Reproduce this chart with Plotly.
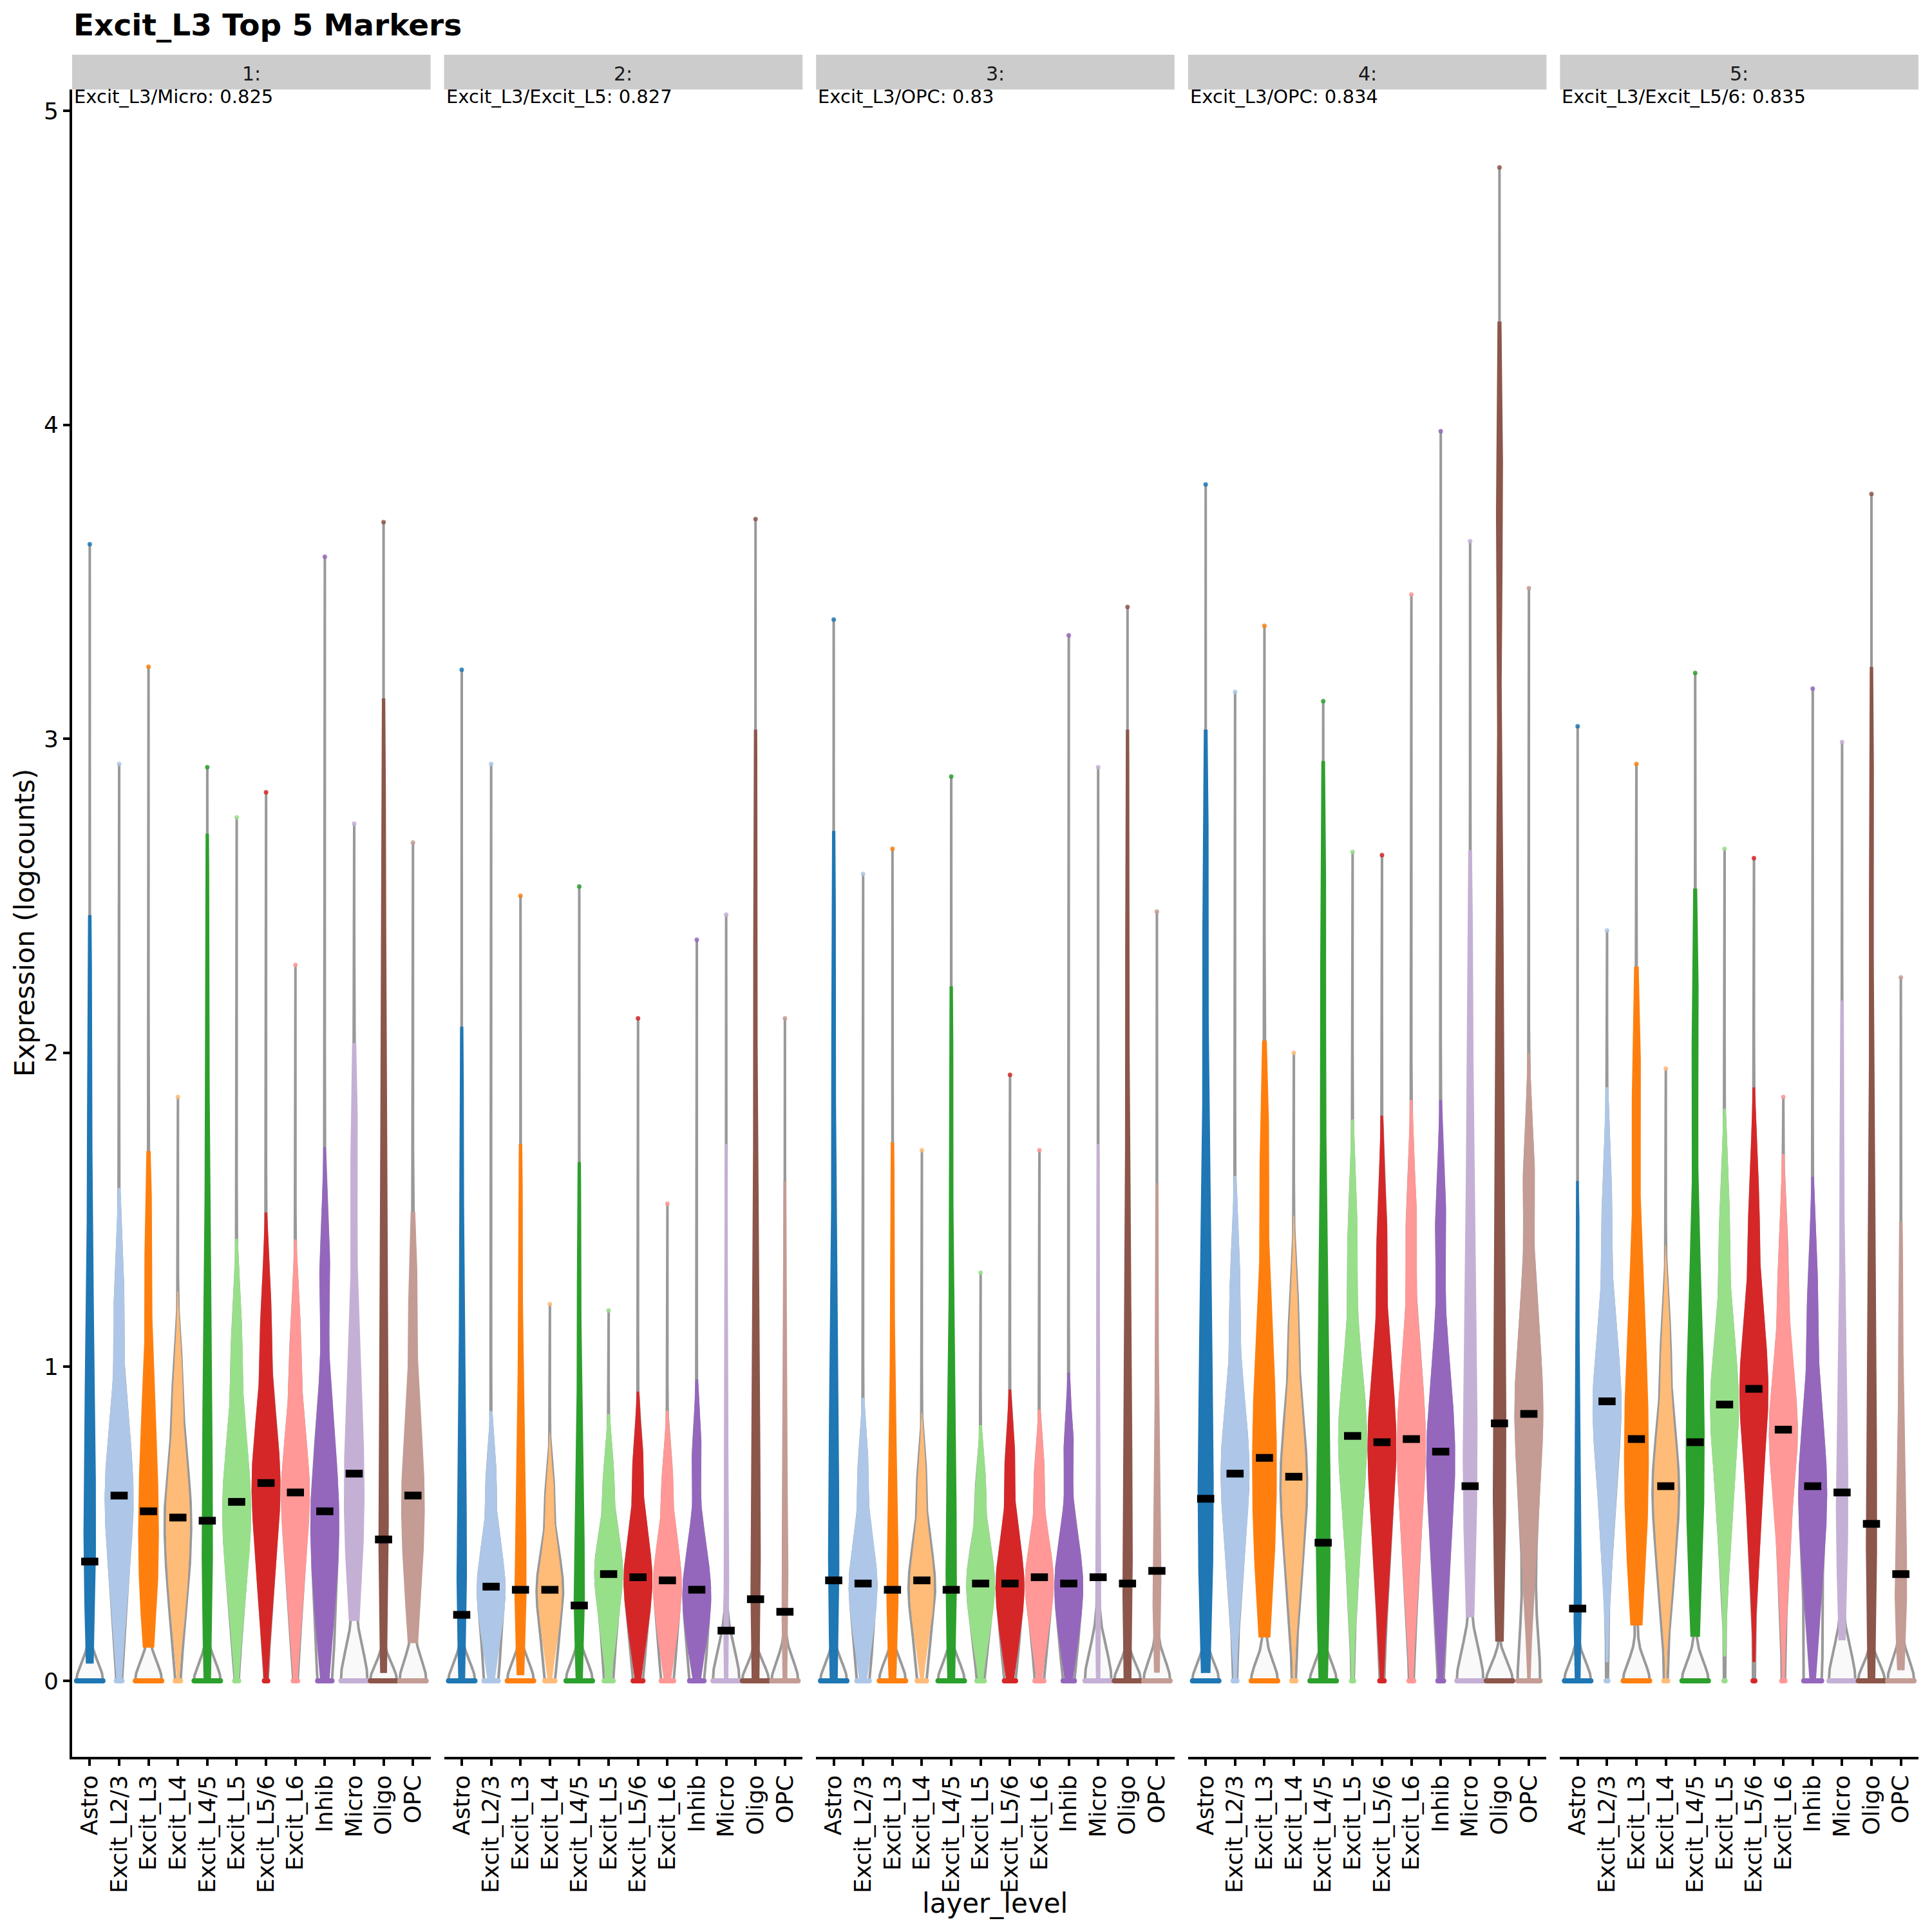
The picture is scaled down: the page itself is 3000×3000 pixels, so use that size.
import numpy as np
import plotly.graph_objects as go

# ---------------- data ----------------
categories = ["Astro", "Excit_L2/3", "Excit_L3", "Excit_L4", "Excit_L4/5", "Excit_L5",
              "Excit_L5/6", "Excit_L6", "Inhib", "Micro", "Oligo", "OPC"]
palette = ["#1f77b4", "#aec7e8", "#ff7f0e", "#ffbb78", "#2ca02c", "#98df8a",
           "#d62728", "#ff9896", "#9467bd", "#c5b0d5", "#8c564b", "#c49c94"]
facet_titles = ["1:", "2:", "3:", "4:", "5:"]
facet_notes = ["Excit_L3/Micro: 0.825", "Excit_L3/Excit_L5: 0.827", "Excit_L3/OPC: 0.83",
               "Excit_L3/OPC: 0.834", "Excit_L3/Excit_L5/6: 0.835"]

# centre marks (black bars)
center_1 = [0.38, 0.59, 0.54, 0.52, 0.51, 0.57, 0.63, 0.60, 0.54, 0.66, 0.45, 0.59]
center_2 = [0.21, 0.30, 0.29, 0.29, 0.24, 0.34, 0.33, 0.32, 0.29, 0.16, 0.26, 0.22]
center_3 = [0.32, 0.31, 0.29, 0.32, 0.29, 0.31, 0.31, 0.33, 0.31, 0.33, 0.31, 0.35]
center_4 = [0.58, 0.66, 0.71, 0.65, 0.44, 0.78, 0.76, 0.77, 0.73, 0.62, 0.82, 0.85]
center_5 = [0.23, 0.89, 0.77, 0.62, 0.76, 0.88, 0.93, 0.80, 0.62, 0.60, 0.50, 0.34]

# maximum expression per group
max_1 = [3.62, 2.92, 3.23, 1.86, 2.91, 2.75, 2.83, 2.28, 3.58, 2.73, 3.69, 2.67]
max_2 = [3.22, 2.92, 2.50, 1.20, 2.53, 1.18, 2.11, 1.52, 2.36, 2.44, 3.70, 2.11]
max_3 = [3.38, 2.57, 2.65, 1.69, 2.88, 1.30, 1.93, 1.69, 3.33, 2.91, 3.42, 2.45]
max_4 = [3.81, 3.15, 3.36, 2.00, 3.12, 2.64, 2.63, 3.46, 3.98, 3.63, 4.82, 3.48]
max_5 = [3.04, 2.39, 2.92, 1.95, 3.21, 2.65, 2.62, 1.86, 3.16, 2.99, 3.78, 2.24]

# share of cells with zero expression
zero_1 = [0.85, 0.05, 0.60, 0.05, 0.70, 0.03, 0.03, 0.04, 0.12, 0.50, 0.85, 0.35]
zero_2 = [0.90, 0.15, 0.75, 0.10, 0.75, 0.10, 0.10, 0.12, 0.15, 0.85, 0.85, 0.80]
zero_3 = [0.85, 0.12, 0.75, 0.10, 0.80, 0.08, 0.10, 0.10, 0.10, 0.80, 0.85, 0.70]
zero_4 = [0.75, 0.05, 0.30, 0.05, 0.65, 0.03, 0.05, 0.05, 0.05, 0.55, 0.75, 0.25]
zero_5 = [0.90, 0.03, 0.35, 0.05, 0.40, 0.02, 0.03, 0.05, 0.20, 0.65, 0.80, 0.60]

# quantiles (5,20,35,50,65,80,95 %) of the non-zero cells
body_1 = [[0.20, 0.35, 0.50, 0.70, 0.95, 1.30, 2.00],
          [0.22, 0.40, 0.52, 0.60, 0.70, 0.85, 1.20],
          [0.20, 0.32, 0.45, 0.58, 0.72, 0.92, 1.40],
          [0.20, 0.33, 0.43, 0.52, 0.60, 0.72, 0.95],
          [0.15, 0.30, 0.48, 0.68, 0.95, 1.35, 2.20],
          [0.22, 0.38, 0.48, 0.57, 0.66, 0.80, 1.08],
          [0.25, 0.42, 0.55, 0.63, 0.72, 0.86, 1.15],
          [0.22, 0.40, 0.52, 0.60, 0.68, 0.82, 1.08],
          [0.15, 0.32, 0.45, 0.55, 0.66, 0.85, 1.30],
          [0.30, 0.45, 0.58, 0.70, 0.85, 1.10, 1.70],
          [0.20, 0.40, 0.65, 0.95, 1.30, 1.80, 2.60],
          [0.20, 0.38, 0.50, 0.60, 0.70, 0.88, 1.25]]
body_2 = [[0.12, 0.25, 0.38, 0.54, 0.75, 1.05, 1.70],
          [0.10, 0.20, 0.26, 0.31, 0.37, 0.46, 0.65],
          [0.12, 0.22, 0.33, 0.46, 0.62, 0.85, 1.40],
          [0.10, 0.19, 0.25, 0.30, 0.35, 0.43, 0.60],
          [0.10, 0.20, 0.30, 0.42, 0.56, 0.80, 1.35],
          [0.12, 0.23, 0.30, 0.35, 0.40, 0.48, 0.65],
          [0.12, 0.22, 0.29, 0.34, 0.40, 0.50, 0.70],
          [0.10, 0.20, 0.27, 0.32, 0.38, 0.47, 0.65],
          [0.10, 0.19, 0.25, 0.30, 0.36, 0.46, 0.72],
          [0.10, 0.20, 0.30, 0.40, 0.55, 0.80, 1.40],
          [0.10, 0.25, 0.45, 0.70, 1.00, 1.50, 2.50],
          [0.10, 0.20, 0.30, 0.42, 0.55, 0.80, 1.30]]
body_3 = [[0.12, 0.26, 0.42, 0.62, 0.90, 1.30, 2.20],
          [0.10, 0.20, 0.27, 0.32, 0.38, 0.48, 0.68],
          [0.10, 0.20, 0.32, 0.45, 0.60, 0.85, 1.40],
          [0.12, 0.21, 0.27, 0.32, 0.38, 0.47, 0.65],
          [0.10, 0.22, 0.36, 0.52, 0.72, 1.05, 1.80],
          [0.12, 0.21, 0.27, 0.32, 0.37, 0.45, 0.62],
          [0.10, 0.20, 0.27, 0.32, 0.38, 0.48, 0.70],
          [0.12, 0.22, 0.28, 0.33, 0.38, 0.47, 0.66],
          [0.10, 0.20, 0.27, 0.32, 0.38, 0.48, 0.74],
          [0.10, 0.20, 0.30, 0.40, 0.55, 0.80, 1.40],
          [0.10, 0.25, 0.45, 0.70, 1.00, 1.50, 2.50],
          [0.12, 0.22, 0.32, 0.42, 0.55, 0.80, 1.30]]
body_4 = [[0.20, 0.40, 0.60, 0.85, 1.15, 1.60, 2.50],
          [0.30, 0.48, 0.60, 0.68, 0.77, 0.92, 1.25],
          [0.25, 0.45, 0.62, 0.76, 0.92, 1.15, 1.70],
          [0.28, 0.45, 0.56, 0.65, 0.74, 0.88, 1.15],
          [0.15, 0.33, 0.52, 0.75, 1.05, 1.50, 2.40],
          [0.35, 0.58, 0.70, 0.78, 0.87, 1.02, 1.40],
          [0.30, 0.52, 0.66, 0.76, 0.86, 1.02, 1.40],
          [0.30, 0.52, 0.66, 0.77, 0.88, 1.05, 1.45],
          [0.25, 0.48, 0.62, 0.73, 0.84, 1.02, 1.45],
          [0.35, 0.55, 0.75, 0.95, 1.20, 1.55, 2.20],
          [0.30, 0.62, 0.95, 1.35, 1.85, 2.55, 3.80],
          [0.35, 0.60, 0.76, 0.88, 1.00, 1.20, 1.60]]
body_5 = [[0.10, 0.18, 0.27, 0.38, 0.55, 0.80, 1.30],
          [0.45, 0.68, 0.80, 0.89, 0.98, 1.14, 1.50],
          [0.30, 0.50, 0.67, 0.82, 0.99, 1.25, 1.90],
          [0.28, 0.43, 0.54, 0.62, 0.70, 0.83, 1.08],
          [0.28, 0.50, 0.68, 0.84, 1.02, 1.30, 2.10],
          [0.45, 0.67, 0.80, 0.88, 0.97, 1.12, 1.45],
          [0.45, 0.70, 0.84, 0.93, 1.02, 1.17, 1.50],
          [0.35, 0.60, 0.72, 0.80, 0.88, 1.02, 1.32],
          [0.20, 0.40, 0.52, 0.62, 0.72, 0.88, 1.22],
          [0.25, 0.42, 0.56, 0.70, 0.88, 1.15, 1.80],
          [0.15, 0.35, 0.58, 0.85, 1.20, 1.70, 2.70],
          [0.12, 0.22, 0.32, 0.42, 0.55, 0.78, 1.20]]

# ---------------- styles ----------------
# width of the coloured (jittered cells) body
colored_width_1 = [0.34, 0.9, 0.62, 0.8, 0.30, 0.9, 0.9, 0.9, 0.9, 0.62, 0.27, 0.72]
colored_width_2 = [0.27, 0.9, 0.33, 0.8, 0.30, 0.9, 0.9, 0.9, 0.9, 0.12, 0.27, 0.15]
colored_width_3 = [0.30, 0.9, 0.33, 0.8, 0.30, 0.9, 0.9, 0.9, 0.9, 0.12, 0.27, 0.22]
colored_width_4 = [0.46, 0.9, 0.76, 0.8, 0.42, 0.9, 0.9, 0.9, 0.9, 0.42, 0.38, 0.90]
colored_width_5 = [0.20, 0.9, 0.76, 0.8, 0.56, 0.9, 0.9, 0.9, 0.9, 0.34, 0.30, 0.34]
# spread of the zero spike of the grey violin (per cell type)
zero_spread = [0.06, 0.06, 0.06, 0.06, 0.06, 0.06, 0.06, 0.06, 0.06, 0.10, 0.055, 0.065]

centers = [center_1, center_2, center_3, center_4, center_5]
maxima = [max_1, max_2, max_3, max_4, max_5]
zeros = [zero_1, zero_2, zero_3, zero_4, zero_5]
bodies = [body_1, body_2, body_3, body_4, body_5]
cwidths = [colored_width_1, colored_width_2, colored_width_3, colored_width_4, colored_width_5]

FONT = "DejaVu Sans"
W = H = 3000
BODY = 8                      # default page margin of the html body
PL, PR, PT, PB = 112, 2979, 139, 2728   # plot area in page pixels
plot_w = PR - PL
plot_h = PB - PT
panel_w, gap = 556.6, 21.0
GRAY_FILL, GRAY_LINE = "#F9F9F9", "#999999"


def xdom(k):
    a = k * (panel_w + gap) / plot_w
    return [a, a + panel_w / plot_w]


def px_x(p):
    return (p - PL) / plot_w


def px_y(p):
    return (PB - p) / plot_h


def kern(grid, centres, weights, bw):
    c = np.asarray(centres, float)[:, None]
    w = np.asarray(weights, float)[:, None]
    return (w * np.exp(-0.5 * ((grid[None, :] - c) / bw) ** 2)).sum(axis=0) / bw


def outline(pos, grid, half):
    xs = np.concatenate([pos + half, (pos - half)[::-1]])
    ys = np.concatenate([grid, grid[::-1]])
    return xs, ys


fig = go.Figure()
ann = []
shapes = []

for k in range(5):
    xa = "x" if k == 0 else f"x{k + 1}"
    for i, cat in enumerate(categories):
        pos = i + 1
        col = palette[i]
        body = bodies[k][i]
        z = zeros[k][i]
        mx = maxima[k][i]
        heavy = z >= 0.3
        if heavy:
            bw_c = float(np.clip(0.5 * np.std(body), 0.1, 0.35))
            bw_z = zero_spread[i]
            top_pad = 1.5
        else:
            bw_c = float(np.clip(0.5 * np.std(body), 0.05, 0.16))
            bw_z = bw_c
            top_pad = 2.5
        nb = len(body)

        # full distribution: zeros + non-zero body + top cell -> grey violin
        g_grid = np.linspace(0.0, mx, 500)
        g_den = (kern(g_grid, [0.0], [z], bw_z)
                 + kern(g_grid, body, [(1 - z) / nb] * nb, bw_c)
                 + kern(g_grid, [mx], [0.0015], bw_c))
        g_half = 0.45 * g_den / g_den.max()
        gx, gy = outline(pos, g_grid, g_half)
        fig.add_trace(go.Scatter(
            x=gx, y=gy, xaxis=xa, yaxis="y", mode="lines", fill="toself",
            fillcolor=GRAY_FILL, line=dict(color=GRAY_LINE, width=4),
            hoverinfo="skip", showlegend=False))

        # coloured body of non-zero cells
        lo = max(0.0, body[0] - (0.5 if heavy else 2.5) * bw_c)
        hi = min(mx, body[-1] + top_pad * bw_c)
        c_grid = np.linspace(lo, hi, 300)
        c_den = kern(c_grid, body, [1.0] * nb, bw_c)
        c_half = cwidths[k][i] / 2 * c_den / c_den.max()
        cx, cy = outline(pos, c_grid, c_half)
        lw = 1 if cat == "Excit_L4" else 4
        fig.add_trace(go.Scatter(
            x=cx, y=cy, xaxis=xa, yaxis="y", mode="lines", fill="toself",
            fillcolor=col, line=dict(color=col, width=lw),
            hoverinfo="skip", showlegend=False))

        # cells at zero
        hw0 = g_half[0]
        fig.add_trace(go.Scatter(
            x=[pos - hw0, pos + hw0], y=[0, 0], xaxis=xa, yaxis="y",
            mode="lines+markers", line=dict(color=col, width=8),
            marker=dict(color=col, size=8), hoverinfo="skip", showlegend=False))
        # top cell
        fig.add_trace(go.Scatter(
            x=[pos], y=[mx], xaxis=xa, yaxis="y", mode="markers",
            marker=dict(color=col, size=7, opacity=0.85),
            hoverinfo="skip", showlegend=False))

    fig.add_trace(go.Scatter(
        x=list(range(1, 13)), y=centers[k], xaxis=xa, yaxis="y", mode="markers",
        marker=dict(symbol="line-ew", size=19, line=dict(color="black", width=12)),
        hoverinfo="skip", showlegend=False))

    d = xdom(k)
    fig.layout[("xaxis" if k == 0 else f"xaxis{k + 1}")] = dict(
        domain=d, range=[0.4, 12.6], anchor="y",
        tickmode="array", tickvals=list(range(1, 13)), ticktext=categories,
        tickangle=-90, showline=True, linecolor="black", linewidth=4,
        ticks="outside", ticklen=10, tickwidth=4, tickcolor="black",
        tickfont=dict(family=FONT, size=36, color="black"),
        showgrid=False, zeroline=False, fixedrange=True)

    shapes.append(dict(type="rect", xref="paper", yref="paper",
                       x0=d[0], x1=d[1], y0=px_y(139), y1=px_y(85),
                       fillcolor="#CCCCCC", line=dict(width=0), layer="below"))
    ann.append(dict(text=facet_titles[k], xref="paper", yref="paper",
                    x=(d[0] + d[1]) / 2, y=px_y(114), xanchor="center", yanchor="middle",
                    showarrow=False, font=dict(family=FONT, size=30, color="#1A1A1A")))
    ann.append(dict(text=facet_notes[k], xref="paper", yref="paper",
                    x=d[0] + px_x(PL + 1), y=px_y(150), xanchor="left", yanchor="middle",
                    showarrow=False, font=dict(family=FONT, size=29, color="black")))

ann.append(dict(text="Excit_L3 Top 5 Markers", xref="paper", yref="paper",
                x=px_x(112), y=px_y(39), xanchor="left", yanchor="middle", showarrow=False,
                font=dict(family=FONT, size=47, color="black", weight="bold")))
ann.append(dict(text="layer_level", xref="paper", yref="paper",
                x=px_x(1545), y=px_y(2955), xanchor="center", yanchor="middle",
                showarrow=False, font=dict(family=FONT, size=42, color="black")))
ann.append(dict(text="Expression (logcounts)", xref="paper", yref="paper",
                x=px_x(38), y=px_y(1433), xanchor="center", yanchor="middle",
                textangle=-90, showarrow=False, font=dict(family=FONT, size=42, color="black")))

fig.update_layout(
    width=W, height=H,
    margin=dict(l=PL - BODY, r=W - PR + BODY, t=PT - BODY, b=H - PB + BODY, autoexpand=False),
    paper_bgcolor="white", plot_bgcolor="white", showlegend=False,
    yaxis=dict(domain=[0, 1], range=[-0.242, 5.068], anchor="x",
               tickmode="array", tickvals=[0, 1, 2, 3, 4, 5],
               showline=True, linecolor="black", linewidth=4,
               ticks="outside", ticklen=10, tickwidth=4, tickcolor="black",
               tickfont=dict(family=FONT, size=36, color="black"),
               showgrid=False, zeroline=False, fixedrange=True),
    annotations=ann, shapes=shapes,
)

fig.write_html("out.html")
